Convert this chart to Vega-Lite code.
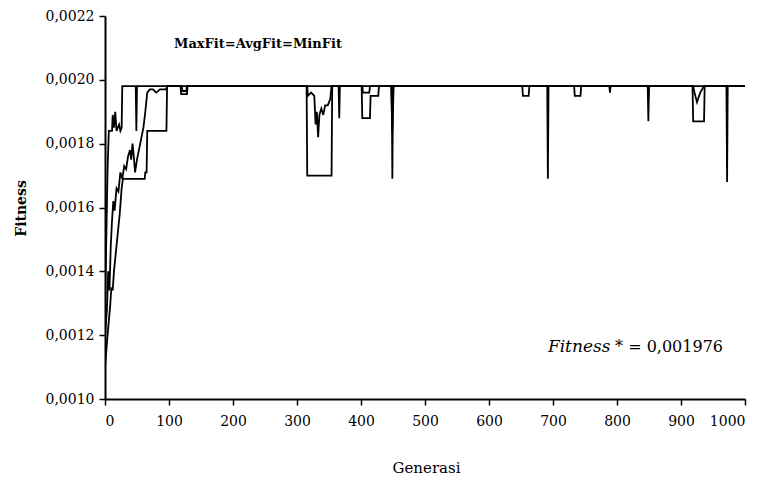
{
  "$schema": "https://vega.github.io/schema/vega-lite/v6.json",
  "autosize": "none",
  "width": 640,
  "height": 383,
  "padding": {"left": 105, "top": 16, "right": 17, "bottom": 79},
  "background": "white",
  "config": {"view": {"stroke": null}, "font": "DejaVu Serif"},
  "datasets": {
    "fit": [
      {"g": 0, "v": 0.00130, "s": "MaxFit"}, {"g": 2, "v": 0.00150, "s": "MaxFit"}, {"g": 4, "v": 0.00172, "s": "MaxFit"}, {"g": 6, "v": 0.00184, "s": "MaxFit"},
      {"g": 11, "v": 0.00184, "s": "MaxFit"}, {"g": 12, "v": 0.00189, "s": "MaxFit"}, {"g": 14, "v": 0.00185, "s": "MaxFit"}, {"g": 16, "v": 0.00190, "s": "MaxFit"},
      {"g": 18, "v": 0.00184, "s": "MaxFit"}, {"g": 22, "v": 0.00186, "s": "MaxFit"}, {"g": 24, "v": 0.00184, "s": "MaxFit"}, {"g": 26, "v": 0.00185, "s": "MaxFit"},
      {"g": 27, "v": 0.00198, "s": "MaxFit"}, {"g": 48, "v": 0.00198, "s": "MaxFit"}, {"g": 49, "v": 0.00184, "s": "MaxFit"}, {"g": 50, "v": 0.00198, "s": "MaxFit"},
      {"g": 1000, "v": 0.00198, "s": "MaxFit"},

      {"g": 0, "v": 0.00120, "s": "AvgFit"}, {"g": 3, "v": 0.00128, "s": "AvgFit"}, {"g": 5, "v": 0.00140, "s": "AvgFit"}, {"g": 7, "v": 0.00134, "s": "AvgFit"},
      {"g": 9, "v": 0.00148, "s": "AvgFit"}, {"g": 11, "v": 0.00156, "s": "AvgFit"}, {"g": 13, "v": 0.00162, "s": "AvgFit"}, {"g": 15, "v": 0.00159, "s": "AvgFit"},
      {"g": 18, "v": 0.00166, "s": "AvgFit"}, {"g": 21, "v": 0.00165, "s": "AvgFit"}, {"g": 24, "v": 0.00171, "s": "AvgFit"}, {"g": 27, "v": 0.00169, "s": "AvgFit"},
      {"g": 30, "v": 0.00173, "s": "AvgFit"}, {"g": 33, "v": 0.00172, "s": "AvgFit"}, {"g": 36, "v": 0.00176, "s": "AvgFit"}, {"g": 39, "v": 0.00178, "s": "AvgFit"},
      {"g": 41, "v": 0.00175, "s": "AvgFit"}, {"g": 43, "v": 0.00180, "s": "AvgFit"}, {"g": 45, "v": 0.00176, "s": "AvgFit"}, {"g": 47, "v": 0.00171, "s": "AvgFit"},
      {"g": 50, "v": 0.00175, "s": "AvgFit"}, {"g": 55, "v": 0.00180, "s": "AvgFit"}, {"g": 60, "v": 0.00185, "s": "AvgFit"}, {"g": 63, "v": 0.00190, "s": "AvgFit"},
      {"g": 66, "v": 0.00196, "s": "AvgFit"}, {"g": 70, "v": 0.00197, "s": "AvgFit"}, {"g": 75, "v": 0.00197, "s": "AvgFit"}, {"g": 80, "v": 0.00196, "s": "AvgFit"},
      {"g": 86, "v": 0.00197, "s": "AvgFit"}, {"g": 95, "v": 0.00197, "s": "AvgFit"}, {"g": 98, "v": 0.00198, "s": "AvgFit"},
      {"g": 120, "v": 0.00198, "s": "AvgFit"}, {"g": 121, "v": 0.001965, "s": "AvgFit"}, {"g": 127, "v": 0.001965, "s": "AvgFit"}, {"g": 128, "v": 0.00198, "s": "AvgFit"},
      {"g": 316, "v": 0.00198, "s": "AvgFit"}, {"g": 317, "v": 0.00195, "s": "AvgFit"}, {"g": 322, "v": 0.00196, "s": "AvgFit"}, {"g": 327, "v": 0.00195, "s": "AvgFit"},
      {"g": 329, "v": 0.00186, "s": "AvgFit"}, {"g": 331, "v": 0.00190, "s": "AvgFit"}, {"g": 333, "v": 0.00182, "s": "AvgFit"}, {"g": 335, "v": 0.00189, "s": "AvgFit"},
      {"g": 338, "v": 0.00191, "s": "AvgFit"}, {"g": 341, "v": 0.00189, "s": "AvgFit"}, {"g": 344, "v": 0.00192, "s": "AvgFit"}, {"g": 348, "v": 0.00192, "s": "AvgFit"},
      {"g": 352, "v": 0.00194, "s": "AvgFit"}, {"g": 354, "v": 0.00198, "s": "AvgFit"},
      {"g": 402, "v": 0.00198, "s": "AvgFit"}, {"g": 403, "v": 0.00196, "s": "AvgFit"}, {"g": 413, "v": 0.00196, "s": "AvgFit"}, {"g": 414, "v": 0.00198, "s": "AvgFit"},
      {"g": 447, "v": 0.00198, "s": "AvgFit"}, {"g": 449, "v": 0.00184, "s": "AvgFit"}, {"g": 451, "v": 0.00198, "s": "AvgFit"},
      {"g": 848, "v": 0.00198, "s": "AvgFit"}, {"g": 849, "v": 0.00194, "s": "AvgFit"}, {"g": 850, "v": 0.00198, "s": "AvgFit"},
      {"g": 919, "v": 0.00198, "s": "AvgFit"}, {"g": 921, "v": 0.00196, "s": "AvgFit"}, {"g": 925, "v": 0.00193, "s": "AvgFit"}, {"g": 930, "v": 0.00196, "s": "AvgFit"},
      {"g": 936, "v": 0.00198, "s": "AvgFit"}, {"g": 1000, "v": 0.00198, "s": "AvgFit"},

      {"g": 0, "v": 0.00110, "s": "MinFit"}, {"g": 4, "v": 0.00120, "s": "MinFit"}, {"g": 8, "v": 0.00129, "s": "MinFit"}, {"g": 10, "v": 0.00135, "s": "MinFit"},
      {"g": 12, "v": 0.00134, "s": "MinFit"}, {"g": 14, "v": 0.00140, "s": "MinFit"}, {"g": 17, "v": 0.00146, "s": "MinFit"}, {"g": 20, "v": 0.00152, "s": "MinFit"},
      {"g": 23, "v": 0.00158, "s": "MinFit"}, {"g": 26, "v": 0.00166, "s": "MinFit"}, {"g": 28, "v": 0.00169, "s": "MinFit"}, {"g": 62, "v": 0.00169, "s": "MinFit"},
      {"g": 63, "v": 0.00171, "s": "MinFit"}, {"g": 65, "v": 0.00171, "s": "MinFit"}, {"g": 66, "v": 0.00184, "s": "MinFit"}, {"g": 96, "v": 0.00184, "s": "MinFit"},
      {"g": 97, "v": 0.00198, "s": "MinFit"},
      {"g": 118, "v": 0.00198, "s": "MinFit"}, {"g": 119, "v": 0.001955, "s": "MinFit"}, {"g": 128, "v": 0.001955, "s": "MinFit"}, {"g": 129, "v": 0.00198, "s": "MinFit"},
      {"g": 315, "v": 0.00198, "s": "MinFit"}, {"g": 316, "v": 0.00170, "s": "MinFit"}, {"g": 354, "v": 0.00170, "s": "MinFit"}, {"g": 355, "v": 0.00198, "s": "MinFit"},
      {"g": 365, "v": 0.00198, "s": "MinFit"}, {"g": 366, "v": 0.00188, "s": "MinFit"}, {"g": 367, "v": 0.00198, "s": "MinFit"},
      {"g": 401, "v": 0.00198, "s": "MinFit"}, {"g": 402, "v": 0.00188, "s": "MinFit"}, {"g": 414, "v": 0.00188, "s": "MinFit"}, {"g": 415, "v": 0.00195, "s": "MinFit"},
      {"g": 427, "v": 0.00195, "s": "MinFit"}, {"g": 428, "v": 0.00198, "s": "MinFit"},
      {"g": 448, "v": 0.00198, "s": "MinFit"}, {"g": 449, "v": 0.00169, "s": "MinFit"}, {"g": 450, "v": 0.00198, "s": "MinFit"},
      {"g": 652, "v": 0.00198, "s": "MinFit"}, {"g": 653, "v": 0.00195, "s": "MinFit"}, {"g": 662, "v": 0.00195, "s": "MinFit"}, {"g": 663, "v": 0.00198, "s": "MinFit"},
      {"g": 691, "v": 0.00198, "s": "MinFit"}, {"g": 692, "v": 0.00169, "s": "MinFit"}, {"g": 693, "v": 0.00198, "s": "MinFit"},
      {"g": 733, "v": 0.00198, "s": "MinFit"}, {"g": 734, "v": 0.00195, "s": "MinFit"}, {"g": 743, "v": 0.00195, "s": "MinFit"}, {"g": 744, "v": 0.00198, "s": "MinFit"},
      {"g": 788, "v": 0.00198, "s": "MinFit"}, {"g": 789, "v": 0.00196, "s": "MinFit"}, {"g": 790, "v": 0.00198, "s": "MinFit"},
      {"g": 848, "v": 0.00198, "s": "MinFit"}, {"g": 849, "v": 0.00187, "s": "MinFit"}, {"g": 850, "v": 0.00198, "s": "MinFit"},
      {"g": 918, "v": 0.00198, "s": "MinFit"}, {"g": 919, "v": 0.00187, "s": "MinFit"}, {"g": 936, "v": 0.00187, "s": "MinFit"}, {"g": 937, "v": 0.00198, "s": "MinFit"},
      {"g": 971, "v": 0.00198, "s": "MinFit"}, {"g": 972, "v": 0.00168, "s": "MinFit"}, {"g": 973, "v": 0.00198, "s": "MinFit"},
      {"g": 1000, "v": 0.00198, "s": "MinFit"}
    ]
  },
  "layer": [
    {
      "data": {"name": "fit"},
      "mark": {"type": "line", "stroke": "black", "strokeWidth": 1.8, "clip": true},
      "encoding": {
        "x": {
          "field": "g", "type": "quantitative",
          "scale": {"domain": [0, 1000], "nice": false, "zero": false},
          "axis": {
            "title": "Generasi",
            "values": [0, 50, 100, 150, 200, 250, 300, 350, 400, 450, 500, 550, 600, 650, 700, 750, 800, 850, 900, 950, 1000],
            "labelExpr": "datum.value % 100 == 0 ? format(datum.value, 'd') : ''",
            "labelOverlap": false,
            "grid": false,
            "domainColor": "black", "domainWidth": 2,
            "tickColor": "black", "tickWidth": 1.5, "tickSize": 6,
            "labelFont": "DejaVu Serif", "labelFontSize": 14, "labelColor": "black", "labelPadding": 9,
            "titleFont": "DejaVu Serif", "titleFontSize": 15, "titleFontWeight": "normal", "titleColor": "black",
            "titleX": 321, "titleY": 68, "titleBaseline": "middle", "titleAlign": "center"
          }
        },
        "y": {
          "field": "v", "type": "quantitative",
          "scale": {"domain": [0.001, 0.0022], "nice": false, "zero": false},
          "axis": {
            "title": "Fitness",
            "values": [0.001, 0.0012, 0.0014, 0.0016, 0.0018, 0.002, 0.0022],
            "labelExpr": "replace(format(datum.value, '.4f'), '.', ',')",
            "grid": false,
            "domainColor": "black", "domainWidth": 2,
            "tickColor": "black", "tickWidth": 1.5, "tickSize": 6,
            "labelFont": "DejaVu Serif", "labelFontSize": 14, "labelColor": "black", "labelPadding": 5,
            "titleFont": "DejaVu Serif", "titleFontSize": 14, "titleFontWeight": "bold", "titleColor": "black",
            "titleX": -84, "titleY": 192, "titleBaseline": "middle", "titleAlign": "center", "titleAngle": -90
          }
        },
        "detail": {"field": "s", "type": "nominal"}
      }
    },
    {
      "data": {"values": [{"g": 239, "v": 0.002112, "t": "MaxFit=AvgFit=MinFit"}]},
      "mark": {"type": "text", "font": "DejaVu Serif", "fontSize": 13, "fontWeight": "bold", "color": "black", "align": "center", "baseline": "middle"},
      "encoding": {"x": {"field": "g", "type": "quantitative"}, "y": {"field": "v", "type": "quantitative"}, "text": {"field": "t"}}
    },
    {
      "data": {"values": [{"g": 692, "v": 0.001163, "t": "Fitness"}]},
      "mark": {"type": "text", "font": "DejaVu Serif", "fontSize": 17, "fontStyle": "italic", "color": "black", "align": "left", "baseline": "middle"},
      "encoding": {"x": {"field": "g", "type": "quantitative"}, "y": {"field": "v", "type": "quantitative"}, "text": {"field": "t"}}
    },
    {
      "data": {"values": [{"g": 797, "v": 0.001163, "t": "* = 0,001976"}]},
      "mark": {"type": "text", "font": "DejaVu Serif", "fontSize": 16, "color": "black", "align": "left", "baseline": "middle"},
      "encoding": {"x": {"field": "g", "type": "quantitative"}, "y": {"field": "v", "type": "quantitative"}, "text": {"field": "t"}}
    }
  ]
}
